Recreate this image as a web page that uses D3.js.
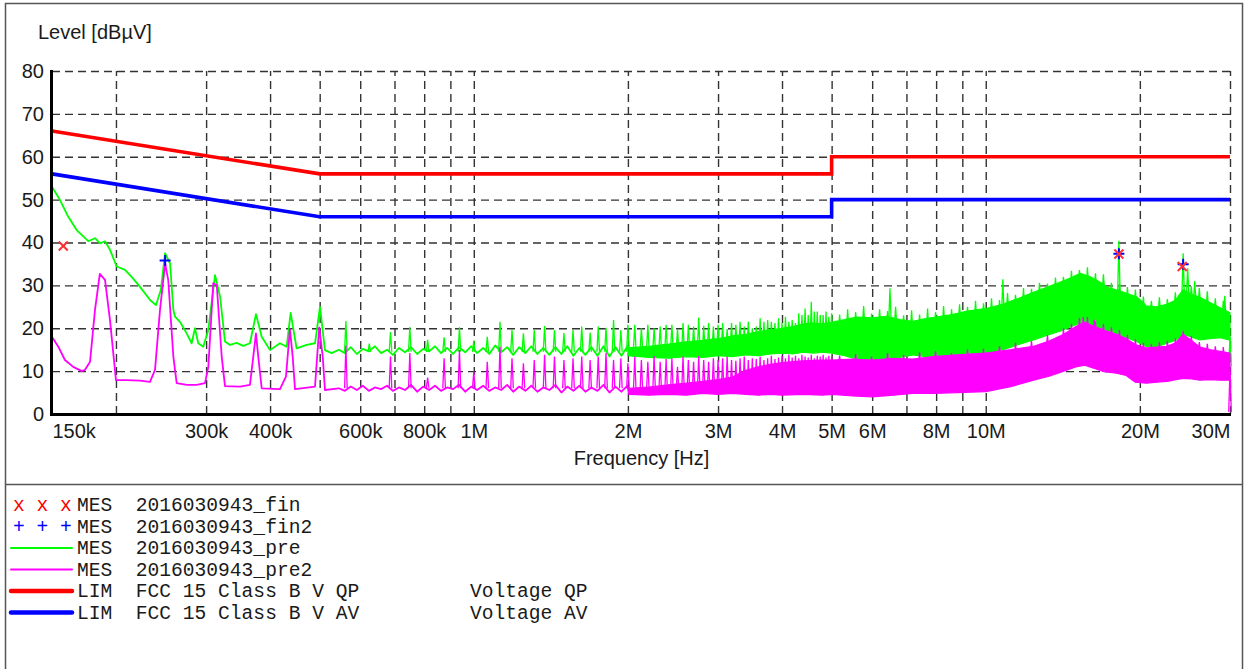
<!DOCTYPE html>
<html>
<head>
<meta charset="utf-8">
<script src="https://cdn.jsdelivr.net/npm/d3@7"></script>
<style>
  html, body { margin: 0; padding: 0; background: #fff; }
  svg { display: block; }
  .mono { font-family: "Liberation Mono", "Courier New", monospace; white-space: pre; }
</style>
</head>
<body>
<svg id="chart" width="1245" height="669"></svg>
<script>
// ---------- axes ----------
const freqDomainKHz = [150, 30000];
const levelDomain = [0, 80];
const levelTicks = [0, 10, 20, 30, 40, 50, 60, 70, 80];
const freqGridKHz = [200, 300, 400, 500, 600, 700, 800, 900, 1000, 2000, 3000, 4000, 5000,
                     6000, 7000, 8000, 9000, 10000, 20000, 30000];
const freqTickKHz = [150, 300, 400, 600, 800, 1000, 2000, 3000, 4000, 5000, 6000, 8000, 10000, 20000, 30000];
const freqTickLabels = ["150k", "300k", "400k", "600k", "800k", "1M", "2M", "3M", "4M", "5M", "6M", "8M", "10M", "20M", "30M"];

// ---------- FCC 15 Class B limits [kHz, dBµV] ----------
const limitQP = [[150, 66], [500, 56], [5000, 56], [5000, 60], [30000, 60]];
const limitAV = [[150, 56], [500, 46], [5000, 46], [5000, 50], [30000, 50]];

// ---------- final measurements [kHz, dBµV] ----------
const finQP = [[157.8, 39.2], [18200, 37.3], [24200, 34.4]];
const finAV = [[249.5, 35.8], [18200, 37.4], [24300, 34.9]];

// ---------- pre scan (peak) up to 2 MHz [kHz, dBµV] ----------
const preLow = [
  [150, 53.0], [155.5, 49.9], [161.4, 46.0], [167.6, 42.9], [176.6, 40.3], [182, 41.0], [186.2, 39.8],
  [190.4, 40.3], [194.7, 38.3], [200.7, 34.4], [208.3, 33.6], [214.6, 32.0], [222.7, 29.7], [233.1, 26.6],
  [239.5, 25.4], [244.7, 28.9], [249.5, 37.5], [255.1, 35.1], [258.9, 24.3], [260.9, 22.7], [266.7, 21.5],
  [274.9, 18.8], [281.1, 16.5], [285.3, 20.0], [289.6, 16.5], [296.2, 15.7], [303, 19.6], [312.3, 32.4],
  [319.4, 27.4], [326.6, 16.9], [334, 16.1], [344.2, 16.6], [354.6, 15.9], [365.4, 16.5], [375.4, 23.3],
  [385.2, 18.0], [399.9, 14.9], [418.2, 16.5], [431, 15.7], [438.8, 23.6], [450.7, 15.3], [471.6, 16.1],
  [489.6, 16.5], [500.7, 25.0], [512, 14.9], [527.7, 14.2],
  [545, 15.0], [560, 14.2], [575, 15.6], [591, 14.0], [607, 15.2], [624, 14.6], [641, 15.8], [659, 14.2],
  [677, 15.0], [695, 13.8], [714, 15.4], [734, 14.4], [754, 15.6], [775, 14.0], [796, 15.2], [818, 14.6],
  [840, 15.8], [863, 14.2], [887, 15.4], [911, 14.0], [936, 15.6], [962, 14.4], [988, 15.8], [1015, 14.2],
  [1043, 15.4], [1072, 14.0], [1101, 16.0], [1131, 14.4], [1162, 15.6], [1194, 13.8], [1227, 15.6],
  [1261, 14.2], [1295, 15.8], [1331, 14.0], [1367, 15.4], [1405, 13.8], [1443, 15.6], [1483, 14.0],
  [1523, 15.8], [1565, 13.6], [1608, 15.4], [1652, 13.8], [1697, 15.6], [1744, 13.6], [1792, 15.8],
  [1841, 13.4], [1891, 15.6], [1943, 13.6], [1996, 15.8], [2050, 13.4]
];
// dense part of the pre scan: [kHz, lower edge, upper edge]
const preBand = [
  [2000, 13.6, 15.4], [2200, 13.2, 15.8], [2400, 13.0, 16.3], [2600, 13.4, 16.8], [2800, 13.2, 17.2],
  [3000, 13.6, 17.6], [3200, 13.4, 18.2], [3400, 13.8, 18.6], [3600, 13.6, 19.2], [3800, 14.0, 19.6],
  [4000, 14.2, 20.0], [4200, 14.0, 20.4], [4400, 14.4, 21.0], [4600, 14.2, 21.2], [4800, 14.4, 21.0],
  [5000, 14.2, 21.4], [5300, 13.6, 22.0], [5600, 12.8, 22.6], [6000, 12.6, 22.4], [6400, 13.0, 22.8],
  [6800, 13.2, 22.0], [7200, 13.8, 21.6], [7600, 13.4, 22.2], [8000, 13.4, 22.6], [8600, 13.8, 23.2],
  [9200, 14.0, 24.0], [10000, 14.2, 24.6], [10800, 15.0, 25.6], [11600, 16.2, 27.0], [12400, 17.3, 28.4],
  [13200, 18.4, 29.6], [14000, 19.4, 30.8], [14700, 20.4, 31.8], [15300, 21.2, 32.8], [16000, 20.6, 32.0],
  [16700, 19.6, 30.8], [17400, 18.6, 29.4], [18200, 18.2, 28.8], [19000, 17.6, 28.0], [19800, 16.8, 27.2],
  [20600, 15.7, 25.2], [21500, 15.6, 25.0], [22600, 16.5, 25.6], [23500, 17.2, 26.6], [24300, 18.6, 29.0],
  [25200, 18.0, 28.0], [26200, 17.3, 27.2], [27400, 17.6, 26.0], [28700, 17.8, 24.8], [30000, 17.2, 23.6]
];
// peaks of the pre scan: [kHz, from, to]
const preSpikes = [
  [562.5, 14.5, 21.7], [625, 14.5, 16.4], [687.5, 14.5, 19.1], [750, 14.5, 20.3], [812.5, 14.5, 17.3],
  [875, 14.5, 17.9], [937.5, 14.5, 20.2], [1000, 14.5, 17.1], [1062.5, 14.5, 18.0], [1125, 14.5, 21.5],
  [1187.5, 14.5, 19.6], [1250, 14.5, 18.8], [1312.5, 14.5, 19.6], [1375, 14.5, 20.5], [1437.5, 14.5, 19.6],
  [1500, 14.5, 18.9], [1562.5, 14.5, 19.6], [1625, 14.5, 20.4], [1687.5, 14.5, 19.0], [1750, 14.5, 20.4],
  [1812.5, 14.5, 20.1], [1875, 14.5, 21.9], [1937.5, 14.5, 19.6], [2000, 14.5, 20.8],
  [2062.5, 15, 20.8], [2125, 15, 20.0], [2187.5, 15, 20.8], [2250, 15, 20.0], [2312.5, 15, 20.4],
  [2375, 15, 20.8], [2437.5, 15, 20.8], [2500, 15, 19.8], [2562.5, 15, 21.2], [2625, 15, 20.8],
  [2687.5, 15, 20.4], [2750, 15, 22.5], [2812.5, 15, 20.6], [2875, 15, 21.2], [2937.5, 15, 20.4],
  [3000, 15, 20.8], [3062.5, 15, 21.2], [3125, 15, 19.8], [3187.5, 15, 21.2], [3250, 15, 20.8],
  [3312.5, 15, 21.5], [3375, 15, 20.4], [3437.5, 15, 21.5], [3500, 15, 20.0], [3562.5, 15, 20.4],
  [3625, 15, 22.3], [3687.5, 15, 21.5], [3750, 15, 21.9], [3812.5, 15, 21.5], [3875, 15, 21.2],
  [3937.5, 15, 22.3], [4000, 15, 21.2], [4062.5, 15, 22.7], [4125, 15, 21.5], [4187.5, 15, 21.9],
  [4250, 15, 21.2], [4312.5, 15, 23.5], [4375, 15, 23.1], [4437.5, 15, 24.6], [4500, 15, 23.1],
  [4562.5, 15, 26.2], [4625, 15, 23.9], [4687.5, 15, 23.9], [4750, 15, 23.1], [4812.5, 15, 23.1],
  [4875, 15, 23.9], [4937.5, 15, 22.7], [5000, 15, 23.5],
  [5183, 19, 23.2], [5373, 19, 24.4], [5570, 20, 23.8], [5774, 20, 25.2], [5985, 20, 23.4], [6204, 20, 24.4],
  [6431, 20, 24.0], [6500, 21, 29.3], [6667, 20, 25.0], [6911, 19, 23.0], [7164, 19, 24.2], [7426, 19, 23.2],
  [7698, 19, 24.6], [7980, 20, 23.8], [8272, 20, 25.2], [8575, 20, 24.4], [8889, 21, 25.6], [9214, 21, 25.0],
  [9551, 21, 26.4], [9901, 22, 25.8], [10263, 22, 27.0], [10639, 22, 26.6], [10800, 23, 31.4], [11029, 23, 28.2],
  [11432, 24, 27.8], [11851, 24, 29.4], [12285, 25, 29.2], [12735, 26, 30.6], [13201, 26, 30.4],
  [13684, 27, 31.8], [14185, 28, 32.0], [14704, 28, 33.4], [15242, 29, 33.6], [15800, 29, 34.2],
  [16378, 29, 32.8], [16978, 28, 32.6], [17599, 27, 30.6], [18200, 27, 40.4], [18243, 26, 30.4],
  [18911, 25, 29.6], [19603, 25, 29.0], [20320, 23, 27.4], [21064, 23, 26.4], [21835, 23, 27.2],
  [22634, 23, 26.8], [23462, 24, 28.4], [24300, 27, 37.5], [24800, 27, 34.0], [25211, 26, 29.8],
  [25600, 26, 31.0], [26134, 25, 29.4], [27090, 24, 28.6], [28082, 23, 27.0], [29109, 22, 26.4],
  [29300, 22, 27.6], [30000, 11, 18]
];

// ---------- pre scan (average) up to 2 MHz [kHz, dBµV] ----------
const pre2Low = [
  [150, 18.0], [154.3, 15.7], [159, 12.6], [165, 11.0], [171.5, 10.0], [174, 10.3], [178, 12.2],
  [182, 24.3], [186, 32.7], [190.4, 31.3], [194.7, 21.9], [200, 7.9], [209.9, 7.9], [222.7, 7.8],
  [233.1, 7.5], [238.4, 10.3], [243.8, 24.3], [249.5, 35.1], [253, 31.3], [258.9, 13.4], [262.8, 7.2],
  [274.9, 6.8], [287.6, 6.8], [298.5, 7.2], [303, 11.0], [309.8, 30.5], [314.7, 30.1], [321.8, 13.4],
  [326.6, 6.5], [349.4, 6.4], [365.4, 6.8], [370.9, 13.4], [375.4, 18.8], [379.3, 13.4], [385.2, 6.0],
  [418.2, 5.8], [429.6, 8.7], [437.4, 19.8], [442.8, 13.4], [447.5, 5.8], [489.6, 6.4], [499, 20.2],
  [506.9, 13.4], [512, 5.6],
  [545, 6.0], [560, 5.4], [575, 6.4], [591, 5.6], [607, 6.6], [624, 5.4], [641, 6.2], [659, 5.8],
  [677, 6.6], [695, 5.4], [714, 6.2], [734, 5.6], [754, 6.8], [775, 5.2], [796, 6.4], [818, 5.6],
  [840, 6.6], [863, 5.4], [887, 6.2], [911, 5.8], [936, 6.8], [962, 5.2], [988, 6.4], [1015, 5.6],
  [1043, 6.6], [1072, 5.4], [1101, 6.2], [1131, 5.6], [1162, 6.8], [1194, 5.2], [1227, 6.4], [1261, 5.4],
  [1295, 6.6], [1331, 5.2], [1367, 6.2], [1405, 5.6], [1443, 6.8], [1483, 5.0], [1523, 6.4], [1565, 5.4],
  [1608, 6.6], [1652, 5.2], [1697, 6.2], [1744, 5.4], [1792, 6.8], [1841, 5.0], [1891, 6.4], [1943, 5.2],
  [1996, 6.6], [2010, 4.6]
];
const pre2Band = [
  [2010, 4.6, 6.0], [2200, 4.4, 6.3], [2400, 4.6, 6.8], [2600, 4.4, 7.2],
  [2800, 4.8, 7.6], [3000, 4.6, 8.0], [3200, 4.8, 8.6], [3400, 4.6, 10.2], [3600, 4.4, 11.0],
  [3800, 4.6, 11.6], [4000, 4.4, 12.0], [4400, 4.6, 12.4], [4800, 4.4, 12.6], [5000, 4.6, 12.6],
  [5500, 4.2, 12.8], [6000, 4.0, 12.6], [6600, 4.4, 13.0], [7200, 4.8, 12.8], [7900, 4.8, 13.4],
  [8800, 5.0, 13.8], [10000, 5.2, 14.2], [11200, 6.4, 15.0], [12400, 7.9, 15.8], [13300, 8.8, 17.0],
  [14200, 10.0, 18.6], [15000, 11.0, 20.4], [15600, 11.4, 21.4], [16300, 10.6, 20.4], [17000, 9.9, 19.6],
  [18000, 9.5, 18.6], [18800, 9.0, 17.6], [19600, 7.4, 16.2], [20600, 7.2, 15.4], [21600, 7.4, 15.6],
  [22600, 7.6, 15.8], [23500, 8.0, 16.6], [24300, 8.3, 18.6], [25200, 8.2, 17.2], [26200, 7.9, 15.6],
  [27400, 8.0, 15.0], [28700, 7.9, 14.6], [30000, 7.9, 14.2]
];
const pre2Spikes = [
  [562.5, 6, 16.0], [687.5, 6, 13.4], [750, 6, 14.2], [812.5, 6, 8.5], [875, 6, 13.0],
  [937.5, 6, 14.9], [1000, 6, 9.9], [1062.5, 6, 12.2], [1125, 6, 15.7], [1187.5, 6, 13.0],
  [1250, 6, 11.8], [1312.5, 6, 12.6], [1375, 6, 13.8], [1437.5, 6, 13.4], [1500, 6, 12.6],
  [1562.5, 6, 13.0], [1625, 6, 13.4], [1687.5, 6, 12.6], [1750, 6, 13.4], [1812.5, 6, 14.3],
  [1875, 6, 12.6], [1937.5, 6, 13.0], [2000, 6, 11.8],
  [2062.5, 5.5, 13.4], [2125, 5.5, 12.6], [2187.5, 5.5, 12.2], [2250, 5.5, 13.5], [2312.5, 5.5, 12.2],
  [2375, 5.5, 12.8], [2437.5, 5.5, 13.0], [2500, 5.5, 11.0], [2562.5, 5.5, 13.4], [2625, 5.5, 12.6],
  [2687.5, 5.5, 12.2], [2750, 5.5, 13.5], [2812.5, 5.5, 12.6], [2875, 5.5, 12.2], [2937.5, 5.5, 13.0],
  [3000, 5.5, 12.6], [3062.5, 5.5, 13.0], [3125, 5.5, 13.4], [3187.5, 5.5, 12.6], [3250, 5.5, 12.4],
  [3312.5, 5.5, 13.0], [3375, 5.5, 13.4], [3437.5, 5.5, 12.6], [3500, 5.5, 13.0], [3562.5, 5.5, 12.8],
  [3625, 5.5, 13.4], [3687.5, 5.5, 12.6], [3750, 5.5, 13.0], [3812.5, 5.5, 13.6], [3875, 5.5, 12.8],
  [3937.5, 5.5, 13.2], [4000, 5.5, 13.6], [4062.5, 5.5, 13.0], [4125, 5.5, 13.8], [4187.5, 5.5, 13.2],
  [4250, 5.5, 13.6], [4312.5, 5.5, 13.0], [4375, 5.5, 13.8], [4437.5, 5.5, 13.4], [4500, 5.5, 13.2],
  [4562.5, 5.5, 13.8], [4625, 5.5, 13.0], [4687.5, 5.5, 13.6], [4750, 5.5, 13.4], [4812.5, 5.5, 13.8],
  [4875, 5.5, 13.2], [4937.5, 5.5, 13.6], [5000, 5.5, 13.4],
  [5183, 11, 13.6], [5570, 11, 14.0], [5985, 11, 13.4], [6431, 11, 14.2], [6911, 11, 13.8], [7426, 11, 14.4],
  [7980, 12, 14.6], [8575, 12, 14.2], [9214, 12, 15.0], [9901, 12, 15.2], [10639, 13, 15.8], [11432, 13, 16.6],
  [12285, 14, 17.0], [13201, 15, 18.4], [14185, 16, 20.0], [14704, 17, 21.0], [15242, 18, 22.4],
  [15500, 18, 22.6], [15800, 18, 22.6], [16300, 18, 22.0], [16378, 18, 21.6], [16978, 17, 21.0],
  [17599, 17, 20.2], [18243, 16, 19.6], [18911, 15, 18.4], [19603, 14, 17.4], [20320, 13, 16.6],
  [21064, 13, 16.4], [21835, 13, 16.8], [22634, 14, 17.0], [23462, 14, 17.6], [24300, 15, 19.4],
  [25211, 15, 18.2], [26134, 14, 16.8], [27090, 13, 16.4], [28082, 13, 15.8], [29109, 12, 15.6],
  [30000, 0.5, 10]
];

// ---------- legend ----------
const legendNames = ["MES  2016030943_fin", "MES  2016030943_fin2", "MES  2016030943_pre",
                     "MES  2016030943_pre2", "LIM  FCC 15 Class B V QP", "LIM  FCC 15 Class B V AV"];
const legendNotes = ["", "", "", "", "Voltage QP", "Voltage AV"];

// ---------- drawing ----------
const COL = { qp: "#ff0000", av: "#0000ff", pre: "#00ff00", pre2: "#ff00ff", grid: "#333", text: "#1a1a1a" };
const sansFont = '"Liberation Sans", Arial, sans-serif';

const svg = d3.select("#chart");
const x = d3.scaleLog().domain(freqDomainKHz).range([52, 1230]);
const y = d3.scaleLinear().domain(levelDomain).range([414, 71]);
const [x0, x1] = x.range();
const [yb, yt] = y.range();

// outer frame and separator between chart and legend
svg.append("rect").attr("x", 5.5).attr("y", 3.5).attr("width", 1237).attr("height", 700)
  .attr("fill", "none").attr("stroke", "#555").attr("stroke-width", 1.5);
svg.append("line").attr("x1", 5).attr("x2", 1243).attr("y1", 484.5).attr("y2", 484.5)
  .attr("stroke", "#555").attr("stroke-width", 1.5);

// dashed grid
const gridH = svg.append("g").attr("transform", `translate(${x0},0)`)
  .call(d3.axisLeft(y).tickValues(levelTicks).tickSize(-(x1 - x0)).tickFormat(""));
const gridV = svg.append("g").attr("transform", `translate(0,${yb})`)
  .call(d3.axisBottom(x).tickValues(freqGridKHz).tickSize(-(yb - yt)).tickFormat(""));
[gridH, gridV].forEach(g => {
  g.select(".domain").remove();
  g.selectAll(".tick line").attr("stroke", COL.grid).attr("stroke-width", 1.4).attr("stroke-dasharray", "8,5");
});

// tick labels
const yLab = svg.append("g").attr("transform", `translate(${x0},0)`)
  .call(d3.axisLeft(y).tickValues(levelTicks).tickSize(0).tickPadding(8).tickFormat(d3.format("d")));
const xLab = svg.append("g").attr("transform", `translate(0,${yb})`)
  .call(d3.axisBottom(x).tickValues(freqTickKHz).tickSize(0).tickPadding(10)
    .tickFormat((d, i) => freqTickLabels[i]));
[yLab, xLab].forEach(g => {
  g.select(".domain").remove();
  g.attr("font-family", sansFont).attr("font-size", 20);
  g.selectAll("text").attr("fill", COL.text);
});
xLab.selectAll(".tick text").filter((d, i) => i === 0).attr("text-anchor", "start");
xLab.selectAll(".tick text").filter((d, i) => i === freqTickKHz.length - 1).attr("text-anchor", "end");

// axis titles
svg.append("text").attr("x", 38).attr("y", 39).attr("font-family", sansFont).attr("font-size", 20)
  .attr("fill", COL.text).text("Level [dBµV]");
svg.append("text").attr("x", (x0 + x1) / 2 + 0.5).attr("y", 465).attr("text-anchor", "middle")
  .attr("font-family", sansFont).attr("font-size", 20).attr("fill", COL.text).text("Frequency [Hz]");

// traces
const line = d3.line().x(d => x(d[0])).y(d => y(d[1]));
const band = d3.area().x(d => x(d[0])).y0(d => y(d[1])).y1(d => y(d[2]));
const spikePath = d => {
  const px = x(d[0]), lo = y(d[1]), hi = y(d[2]);
  return `M${px - 1.3},${lo}L${px},${hi}L${px + 1.3},${lo}`;
};
function drawTrace(low, dense, spikes, color) {
  const g = svg.append("g");
  g.append("path").datum(dense).attr("d", band).attr("fill", color)
    .attr("stroke", color).attr("stroke-width", 1.2).attr("stroke-linejoin", "bevel");
  g.selectAll("path.spike").data(spikes).join("path").attr("class", "spike")
    .attr("d", spikePath).attr("fill", "none").attr("stroke", color).attr("stroke-width", 1.3);
  g.append("path").datum(low).attr("d", line).attr("fill", "none")
    .attr("stroke", color).attr("stroke-width", 1.8).attr("stroke-linejoin", "round");
}
drawTrace(preLow, preBand, preSpikes, COL.pre);
drawTrace(pre2Low, pre2Band, pre2Spikes, COL.pre2);

// limit lines
[[limitQP, COL.qp], [limitAV, COL.av]].forEach(([data, c]) => {
  svg.append("path").datum(data).attr("d", line).attr("fill", "none")
    .attr("stroke", c).attr("stroke-width", 3.6).attr("stroke-linejoin", "miter");
});

// axis lines
svg.append("path")
  .attr("d", `M${x0 - 0.5},${yt - 1}V${yb + 0.5}H${x1 + 1}`)
  .attr("fill", "none").attr("stroke", "#000").attr("stroke-width", 3);

// final measurement markers
const plus = svg.append("g");
finAV.forEach(d => {
  const px = x(d[0]), py = y(d[1]);
  plus.append("path").attr("d", `M${px - 5.5},${py}H${px + 5.5}M${px},${py - 5.5}V${py + 5.5}`)
    .attr("stroke", COL.av).attr("stroke-width", 2);
});
const cross = svg.append("g");
finQP.forEach(d => {
  const px = x(d[0]), py = y(d[1]);
  cross.append("path").attr("d", `M${px - 4.5},${py - 4.5}L${px + 4.5},${py + 4.5}M${px - 4.5},${py + 4.5}L${px + 4.5},${py - 4.5}`)
    .attr("stroke", "#ff3030").attr("stroke-width", 2);
});

// legend
const legend = svg.append("g").attr("class", "mono").attr("font-size", 19.6);
const symbols = [
  { t: "x x x", c: COL.qp }, { t: "+ + +", c: COL.av },
  { l: COL.pre, w: 2 }, { l: COL.pre2, w: 2 }, { l: COL.qp, w: 4.5 }, { l: COL.av, w: 4.5 }
];
legendNames.forEach((name, i) => {
  const base = 511 + i * 21.5;
  const s = symbols[i];
  if (s.t) {
    legend.append("text").attr("x", 13).attr("y", base).attr("fill", s.c)
      .attr("xml:space", "preserve").text(s.t);
  } else {
    legend.append("line").attr("x1", 11).attr("x2", 72).attr("y1", base - 6).attr("y2", base - 6)
      .attr("stroke", s.l).attr("stroke-width", s.w).attr("stroke-linecap", "round");
  }
  legend.append("text").attr("x", 77).attr("y", base).attr("fill", COL.text)
    .attr("xml:space", "preserve").text(name);
  if (legendNotes[i]) {
    legend.append("text").attr("x", 470).attr("y", base).attr("fill", COL.text)
      .attr("xml:space", "preserve").text(legendNotes[i]);
  }
});
</script>
</body>
</html>
